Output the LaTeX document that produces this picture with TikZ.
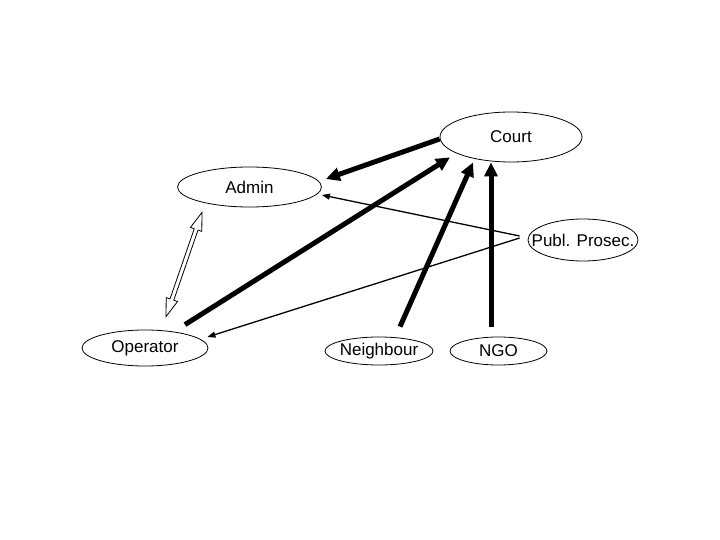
\documentclass[tikz,border=0pt]{standalone}
\usepackage{fontspec}
\setmainfont{Liberation Sans}
\usetikzlibrary{arrows.meta,shapes.geometric,calc}
\newcommand\partylabel[1]{\makebox[0pt]{#1}}
\begin{document}
\begin{tikzpicture}[x=1pt,y=-1pt,
  party/.style={ellipse,draw,line width=0.8pt,inner sep=0pt,font=\fontsize{17}{20}\selectfont},
  strong/.style={line width=5pt,-{Triangle[length=14pt,width=13pt]}},
  weak/.style={line width=1.3pt,-{Triangle[length=8pt,width=6pt]}},
  hollow/.style={draw,line width=0.8pt,fill=white,line join=miter}]
\useasboundingbox[fill=white] (0,0) rectangle (720,540);
\node[party,minimum width=142pt,minimum height=50pt] (court) at (511,137) {\partylabel{Court}};
\node[party,minimum width=144pt,minimum height=40pt] (admin) at (249.5,187) {\partylabel{Admin}};
\node[party,minimum width=110pt,minimum height=42pt] (publ) at (583,240) {\partylabel{Publ. Prosec.}};
\node[party,minimum width=126pt,minimum height=36pt] (operator) at (145,348) {\partylabel{Operator}};
\node[party,minimum width=108pt,minimum height=28pt] (neighbour) at (379,351) {\partylabel{Neighbour}};
\node[party,minimum width=97pt,minimum height=28pt] (ngo) at (498.5,351) {\partylabel{NGO}};

\draw[strong] ([yshift=-2pt]court.west) -- ([xshift=4pt,yshift=8pt]admin.east);
\draw[strong] ([xshift=40pt,yshift=5pt]operator.north) -- ([xshift=-61pt,yshift=5pt]court.south);
\draw[strong] ([xshift=21pt,yshift=10pt]neighbour.north) -- ([xshift=-38pt]court.south);
\draw[strong] ([xshift=-7.5pt,yshift=10pt]ngo.north) -- ([xshift=-20pt]court.south);

\draw[weak] ([xshift=-8pt,yshift=4pt]publ.west) -- ([yshift=-8pt]admin.east);
\draw[weak] ([xshift=-8pt,yshift=2pt]publ.west) -- ([xshift=-1pt,yshift=11pt]operator.east);

\coordinate (dA) at ([xshift=-47.5pt,yshift=-5pt]admin.south);
\coordinate (dB) at ([xshift=21pt,yshift=13pt]operator.north);
\coordinate (hA) at ($(dA)!18pt!(dB)$);
\coordinate (hB) at ($(dB)!18pt!(dA)$);
\draw[hollow] (dA) -- ($(hA)!6pt!90:(dA)$) -- ($(hA)!2pt!90:(dA)$)
  -- ($(hB)!2pt!-90:(dB)$) -- ($(hB)!6pt!-90:(dB)$) -- (dB)
  -- ($(hB)!6pt!90:(dB)$) -- ($(hB)!2pt!90:(dB)$)
  -- ($(hA)!2pt!-90:(dA)$) -- ($(hA)!6pt!-90:(dA)$) -- cycle;
\end{tikzpicture}
\end{document}
